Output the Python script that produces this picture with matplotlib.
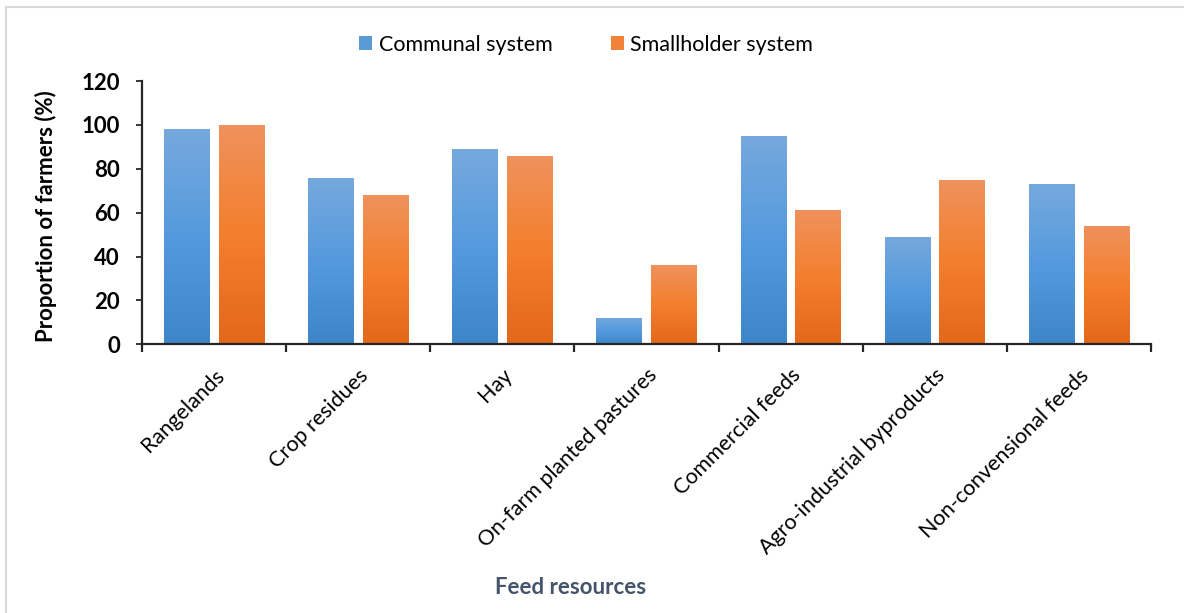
import numpy as np
import matplotlib
matplotlib.use("Agg")
import matplotlib.pyplot as plt
from matplotlib.patches import Patch
from matplotlib.lines import Line2D
from matplotlib.colors import LinearSegmentedColormap

plt.rcParams['font.family'] = ['Lato', 'DejaVu Sans']

categories = ["Rangelands", "Crop residues", "Hay", "On-farm planted pastures",
              "Commercial feeds", "Agro-industrial byproducts", "Non-convensional feeds"]
communal = [98, 76, 89, 12, 95, 49, 73]
smallholder = [100, 68, 86, 36, 61, 75, 54]
series_names = ["Communal system", "Smallholder system"]
y_ticks = [0, 20, 40, 60, 80, 100, 120]

W, H = 1184, 613
fig = plt.figure(figsize=(W / 100, H / 100), dpi=100)
ax = fig.add_axes([142 / W, 1 - 344.3 / H, (1151 - 142) / W, (344.3 - 81) / H])

blue_cmap = LinearSegmentedColormap.from_list("b", ["#3d86c8", "#559ade", "#76a9dd"])
orange_cmap = LinearSegmentedColormap.from_list("o", ["#e4671a", "#f47f2d", "#ef925d"])

x = np.arange(len(categories))
width = 0.315
offset = 0.19
grad = np.linspace(0, 1, 256).reshape(-1, 1)

for vals, dx, cmap in [(communal, -offset, blue_cmap), (smallholder, offset, orange_cmap)]:
    bars = ax.bar(x + dx, vals, width, color="none", edgecolor="none")
    for b in bars:
        x0, y0 = b.get_x(), b.get_y()
        w, h = b.get_width(), b.get_height()
        im = ax.imshow(grad, cmap=cmap, origin="lower", aspect="auto",
                       extent=[x0, x0 + w, y0, y0 + h], zorder=2)
        im.set_clip_path(b)

ax.set_xlim(-0.5, len(categories) - 0.5)
ax.set_ylim(0, 120)

for s in ["top", "right"]:
    ax.spines[s].set_visible(False)
for s in ["left", "bottom"]:
    ax.spines[s].set_color("#262626")
    ax.spines[s].set_linewidth(1.6)

ax.set_yticks(y_ticks)
ax.set_yticklabels([str(v) for v in y_ticks], fontsize=16, fontweight="bold")
ax.tick_params(axis="y", direction="out", length=4, width=1.3, pad=12, color="#262626")

ax.set_xticks(np.arange(len(categories) + 1) - 0.5)
ax.set_xticklabels([])
ax.tick_params(axis="x", which="major", direction="out", length=6, width=1.6, color="#262626")
ax.set_xticks(x, minor=True)
ax.set_xticklabels(categories, minor=True, rotation=45, ha="right",
                   rotation_mode="anchor", fontsize=15.5)
ax.tick_params(axis="x", which="minor", length=0, pad=15)

fig.text(46 / W, 1 - 216 / H, "Proportion of farmers (%)", rotation=90,
         ha="center", va="center", fontsize=16, fontweight="bold")
fig.text(571 / W, 1 - 588 / H, "Feed resources", ha="center", va="center",
         fontsize=16, fontweight="bold", color="#44546a")

handles = [Patch(facecolor="#5b9bd5", edgecolor="none"),
           Patch(facecolor="#f0823a", edgecolor="none")]
fig.legend(handles, series_names, loc="center", bbox_to_anchor=(586 / W, 1 - 45 / H),
           ncol=2, frameon=False, fontsize=15.5, handlelength=0.62, handleheight=0.62,
           handletextpad=0.3, columnspacing=2.7)

# thin chart-area frame
fig.add_artist(Line2D([5.5 / W, 5.5 / W], [0, 1 - 7 / H], color="#d9d9d9", lw=1.5))
fig.add_artist(Line2D([5.5 / W, 1], [1 - 7 / H, 1 - 7 / H], color="#d9d9d9", lw=1.5))

fig.savefig("out.png", dpi=100)
